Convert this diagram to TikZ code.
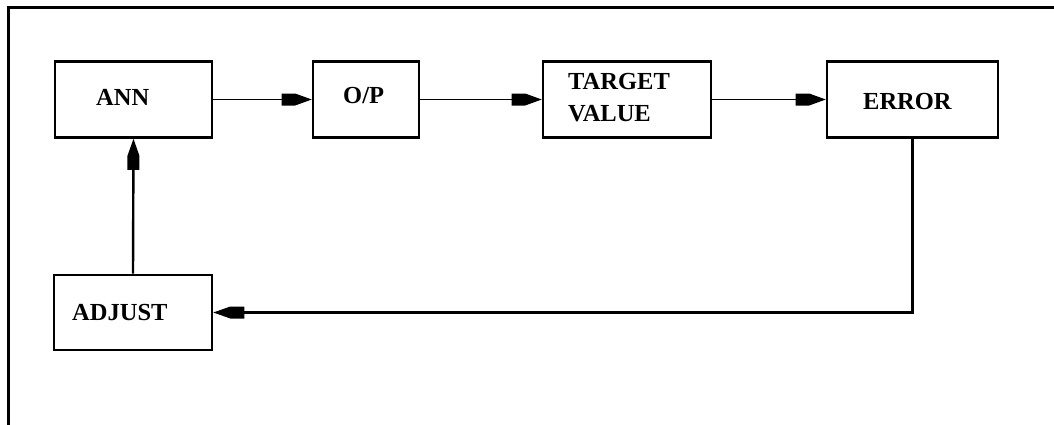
\documentclass[tikz,border=0pt]{standalone}
\usepackage{fontspec}
\setmainfont{Liberation Serif}
\usetikzlibrary{arrows.meta}

% filled arrow head: a flat block at the back that tapers to the tip
\pgfdeclarearrow{
  name = BlockTip,
  parameters = {\the\pgfarrowlength,\the\pgfarrowwidth},
  setup code = {
    \pgfarrowssettipend{0pt}
    \pgfarrowssetlineend{-0.5\pgfarrowlength}
    \pgfarrowshullpoint{0pt}{0pt}
    \pgfarrowshullpoint{-\pgfarrowlength}{0.5\pgfarrowwidth}
    \pgfarrowshullpoint{-\pgfarrowlength}{-0.5\pgfarrowwidth}
    \pgfarrowssavethe\pgfarrowlength
    \pgfarrowssavethe\pgfarrowwidth
  },
  drawing code = {
    \pgfpathmoveto{\pgfqpoint{0pt}{0pt}}
    \pgfpathlineto{\pgfqpoint{-0.55\pgfarrowlength}{0.5\pgfarrowwidth}}
    \pgfpathlineto{\pgfqpoint{-\pgfarrowlength}{0.5\pgfarrowwidth}}
    \pgfpathlineto{\pgfqpoint{-\pgfarrowlength}{-0.5\pgfarrowwidth}}
    \pgfpathlineto{\pgfqpoint{-0.55\pgfarrowlength}{-0.5\pgfarrowwidth}}
    \pgfpathclose
    \pgfusepathqfill
  },
  defaults = {length = 30pt, width = 12pt}
}

\tikzset{
  block/.style={draw, line width=2.6pt, inner sep=0pt},
  caption/.style={font=\fontsize{24.5}{28}\selectfont\bfseries, inner sep=0pt, anchor=base west},
  flow/.style={line width=1.4pt, -{BlockTip[length=30pt,width=12pt]}},
  back/.style={line width=2.4pt, -{BlockTip[length=31pt,width=12pt]}}
}
\begin{document}
\begin{tikzpicture}[x=1pt,y=-1pt]
  \useasboundingbox (0,0) rectangle (1054,424);
  \fill[white] (0,0) rectangle (1054,424);
  % surrounding frame (runs off the right and bottom edges)
  \draw[line width=3pt] (8,440) -- (8,7) -- (1070,7);

  % blocks
  \node[block, minimum width=157pt, minimum height=76pt] (ann) at (133.5,99.5) {};
  \node[block, minimum width=106pt, minimum height=76pt] (op)  at (366,99.5) {};
  \node[block, minimum width=168pt, minimum height=76pt] (tgt) at (627,99.5) {};
  \node[block, minimum width=171pt, minimum height=76pt] (err) at (912.5,99.5) {};
  \node[block, minimum width=158pt, minimum height=75pt] (adj) at (133,312.5) {};

  % labels
  \node[caption] (annt) at (96,105) {ANN};
  \node[caption] (opt)  at (343,103) {O/P};
  \node[caption] (tgt1) at (568,89) {TARGET};
  \node[caption] (tgt2) at (568,121) {VALUE};
  \node[caption] (errt) at (863,109) {ERROR};
  \node[caption] (adjt) at (72,320) {ADJUST};

  % forward path
  \draw[flow] (ann.east) -- (op.west);
  \draw[flow] (op.east) -- (tgt.west);
  \draw[flow] (tgt.east) -- (err.west);

  % feedback path
  \draw[back] (err.south) -- (err.south |- adj.east) -- (adj.east);
  \draw[back] (adj.north) -- (ann.south);
\end{tikzpicture}
\end{document}
